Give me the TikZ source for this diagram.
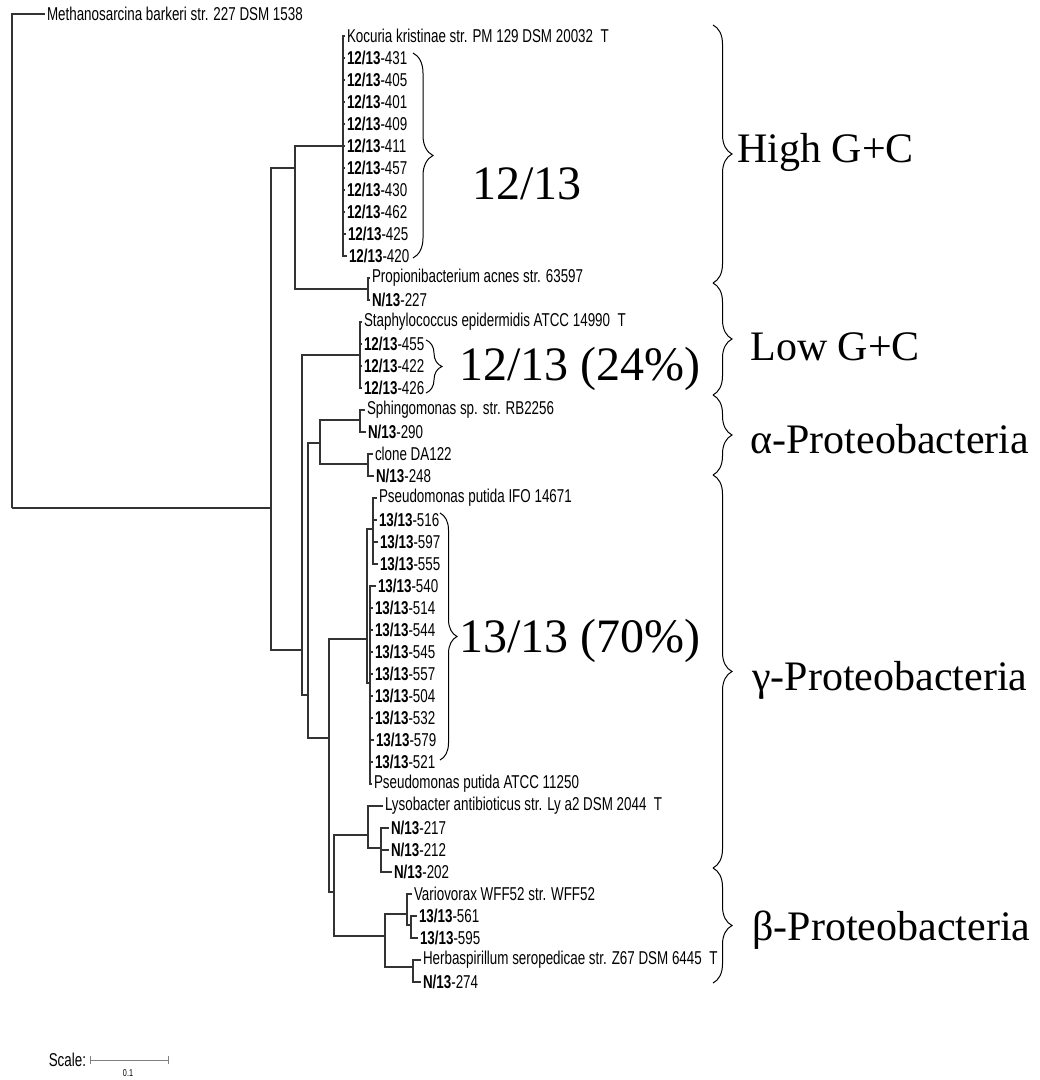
\documentclass[tikz,border=0pt]{standalone}
\usepackage{fontspec}
\setmainfont{Liberation Serif}
\newfontfamily\leaffont[FakeStretch=0.72]{Liberation Sans}
\usetikzlibrary{decorations.pathreplacing,calc}
\newcommand\twelveof[1]{\textbf{12/13}-#1}
\newcommand\thirteenof[1]{\textbf{13/13}-#1}
\newcommand\nof[1]{\textbf{N/13}-#1}

\begin{document}
\begin{tikzpicture}[x=0.5pt,y=-0.5pt,
    branch/.style={draw=black!80,line width=0.9pt},
    leaf/.style={anchor=west,inner sep=1pt,outer sep=0pt,font=\leaffont\fontsize{9.3}{11}\selectfont},
    curly/.style={decorate,decoration={brace,amplitude=#1},line width=0.5pt},
    count/.style={anchor=base west,inner sep=0pt,font=\fontsize{24}{28}\selectfont},
    group/.style={anchor=base west,inner sep=0pt,font=\fontsize{21}{25}\selectfont}]
  \useasboundingbox[fill=white] (0,0) rectangle (1039,1080);
  % inner nodes of the tree
  \foreach \n/\x/\y in {r/12/508,A/271/508,B/295/168,C/302/650,K/343/146,Pr/368/289,
      S/360/355,D/308/695,E/320/443,F/329/738,Sp/360/420,Cl/368/464,P/367/639,G/334/892,
      P1/373/529,P2/370/683,H/368/835,I/381/848,Bt/385/936,V/407/914,Hb/413/967,V2/411/925}
    \coordinate (\n) at (\x,\y);
  \foreach \a/\b in {r/A,A/B,A/C,B/K,B/Pr,C/S,C/D,D/E,D/F,E/Sp,E/Cl,F/P,F/G,
      P/P1,P/P2,G/H,G/Bt,H/I,Bt/V,Bt/Hb,V/V2}
    \draw[branch] (\a) |- (\b);
  % leaves
  \foreach \i/\x/\p/\t in {0/45/r/{Methanosarcina barkeri str. 227 DSM 1538},
      1/345/K/{Kocuria kristinae str. PM 129 DSM 20032\ \ T},
      2/345/K/{\twelveof{431}},3/345/K/{\twelveof{405}},4/345/K/{\twelveof{401}},
      5/345/K/{\twelveof{409}},6/345/K/{\twelveof{411}},7/345/K/{\twelveof{457}},
      8/345/K/{\twelveof{430}},9/345/K/{\twelveof{462}},10/346/K/{\twelveof{425}},
      11/347/K/{\twelveof{420}},
      12/370/Pr/{Propionibacterium acnes str. 63597},13/370/Pr/{\nof{227}},
      14/362/S/{Staphylococcus epidermidis ATCC 14990\ \ T},
      15/362/S/{\twelveof{455}},16/362/S/{\twelveof{422}},17/362/S/{\twelveof{426}},
      18/365/Sp/{Sphingomonas sp. str. RB2256},19/366/Sp/{\nof{290}},
      20/373/Cl/{clone DA122},21/374/Cl/{\nof{248}},
      22/377/P1/{Pseudomonas putida IFO 14671},
      23/377/P1/{\thirteenof{516}},24/378/P1/{\thirteenof{597}},25/378/P1/{\thirteenof{555}},
      26/376/P2/{\thirteenof{540}},27/373/P2/{\thirteenof{514}},28/373/P2/{\thirteenof{544}},
      29/373/P2/{\thirteenof{545}},30/373/P2/{\thirteenof{557}},31/373/P2/{\thirteenof{504}},
      32/373/P2/{\thirteenof{532}},33/374/P2/{\thirteenof{579}},34/373/P2/{\thirteenof{521}},
      35/372/P2/{Pseudomonas putida ATCC 11250},
      36/383/H/{Lysobacter antibioticus str. Ly a2 DSM 2044\ \ T},
      37/389/I/{\nof{217}},38/389/I/{\nof{212}},39/392/I/{\nof{202}},
      40/412/V/{Variovorax WFF52 str. WFF52},
      41/417/V2/{\thirteenof{561}},42/418/V2/{\thirteenof{595}},
      43/421/Hb/{Herbaspirillum seropedicae str. Z67 DSM 6445\ \ T},44/421/Hb/{\nof{274}}}
  {
    \node[leaf] (l\i) at (\x,{14+22*\i}) {\t};
    \draw[branch] (\p) |- (l\i.west);
  }
  % isolate counts
  \draw[curly=10pt] (413,53) -- (413,258);
  \node[count] (c1) at (472,200) {12/13};
  \draw[curly=8pt] (426,340) -- (426,393);
  \node[count] (c2) at (459,380) {12/13 (24\%)};
  \draw[curly=8.5pt] (440,513) -- (440,760);
  \node[count] (c3) at (459,652) {13/13 (70\%)};
  % groups
  \foreach \a/\b in {25/283,283/395,395/475,475/868,868/983}
    \draw[curly=9.5pt] (713,\a) -- (713,\b);
  \node[group] (hgc) at (737,163) {High G+C};
  \node[group] (lgc) at (750,360) {Low G+C};
  \node[group] (alp) at (750,453) {α-Proteobacteria};
  \node[group] (gam) at (752,690) {γ-Proteobacteria};
  \node[group] (bet) at (752,940) {β-Proteobacteria};
  % scale
  \node[leaf,anchor=east] (scl) at (88,1060) {Scale:};
  \coordinate (s1) at (90,1060);
  \coordinate (s2) at (168,1060);
  \draw[gray,line width=0.5pt] (s1) -- (s2) ($(s1)+(0,-4)$) -- ($(s1)+(0,4)$) ($(s2)+(0,-4)$) -- ($(s2)+(0,4)$);
  \node[font=\leaffont\fontsize{5}{6}\selectfont,inner sep=0pt] (sv) at (128,1073) {0.1};
\end{tikzpicture}
\end{document}
